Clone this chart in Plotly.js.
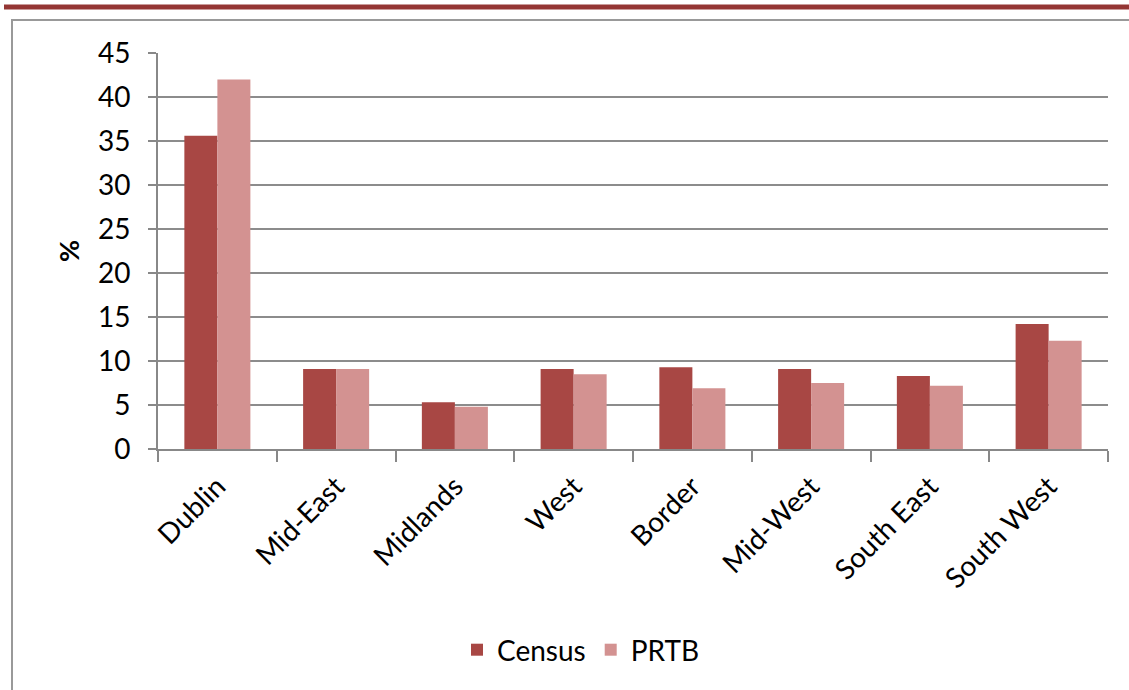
<!DOCTYPE html>
<html>
<head>
<meta charset="utf-8">
<script src="https://cdn.plot.ly/plotly-3.0.1.min.js"></script>
<style>
html,body{margin:0;padding:0;background:#fff;}
#chart{width:1129px;height:690px;}
</style>
</head>
<body>
<div id="chart"></div>
<script>
var regions = ["Dublin","Mid-East","Midlands","West","Border","Mid-West","South East","South West"];
var census = [35.6, 9.1, 5.3, 9.1, 9.3, 9.1, 8.3, 14.2];
var prtb = [42.0, 9.1, 4.8, 8.5, 6.9, 7.5, 7.2, 12.3];
var seriesNames = ["Census","PRTB"];
var yTicks = [0,5,10,15,20,25,30,35,40,45];

var W = 1129, H = 690;
var M = {l:158, r:21, t:53, b:241};
function px(x){ return (x - M.l) / (W - M.l - M.r); }
function py(y){ return (H - M.b - y) / (H - M.t - M.b); }

var FONT = "Lato, 'Open Sans', sans-serif";

var traces = [
  {type:"bar", x:regions, y:census, name:seriesNames[0], marker:{color:"#A84744"}},
  {type:"bar", x:regions, y:prtb, name:seriesNames[1], marker:{color:"#D39291"}}
];

var layout = {
  width:W, height:H,
  margin:M,
  paper_bgcolor:"#fff", plot_bgcolor:"#fff",
  font:{family:FONT, size:28, color:"#000"},
  barmode:"group", bargap:0.444, bargroupgap:0,
  showlegend:true,
  legend:{orientation:"h", x:px(581), xanchor:"center", xref:"paper", y:py(650), yanchor:"middle",
          font:{family:FONT, size:28, color:"#000"}, itemwidth:30, traceorder:"normal"},
  xaxis:{type:"category", tickson:"boundaries", ticks:"outside", ticklen:11, tickwidth:2, tickcolor:"#888",
         showline:true, linecolor:"#888", linewidth:2, showgrid:false, tickangle:-45,
         ticklabelstandoff:8,
         tickfont:{family:FONT, size:28, color:"#000"}, fixedrange:true},
  yaxis:{range:[0,45], tickvals:yTicks, ticks:"outside", ticklen:8, tickwidth:2, tickcolor:"#888",
         showline:true, linecolor:"#888", linewidth:2, showgrid:true, gridcolor:"#8c8c8c", gridwidth:2,
         zeroline:false, ticklabelstandoff:12,
         tickfont:{family:FONT, size:28, color:"#000"},
         title:{text:"<b>%</b>", font:{family:FONT, size:27, color:"#000"}, standoff:10}},
  shapes:[
    {type:"rect", xref:"paper", yref:"paper", x0:px(12), x1:px(1140), y0:py(20), y1:py(700),
     line:{color:"#999", width:2}, fillcolor:"rgba(0,0,0,0)", layer:"below"},
    {type:"line", xref:"paper", yref:"paper", x0:px(4), x1:px(1129), y0:py(7), y1:py(7),
     line:{color:"#943634", width:5}}
  ]
};

Plotly.newPlot("chart", traces, layout, {displayModeBar:false, staticPlot:true});
</script>
</body>
</html>
